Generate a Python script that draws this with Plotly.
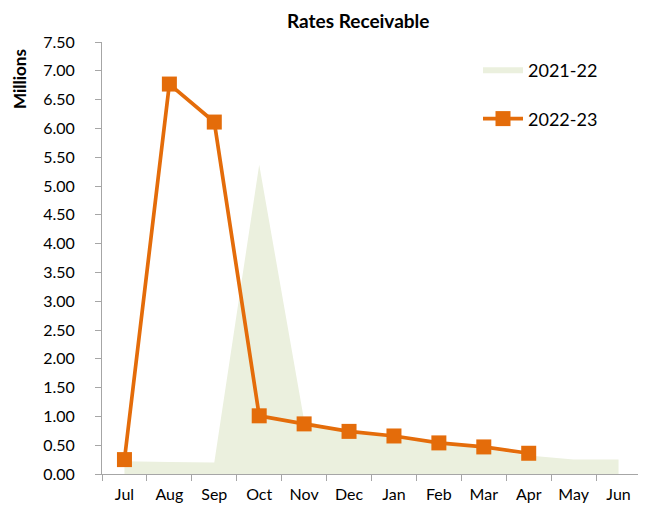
import plotly.graph_objects as go

months = ["Jul", "Aug", "Sep", "Oct", "Nov", "Dec", "Jan", "Feb", "Mar", "Apr", "May", "Jun"]
rates_2021_22 = [0.22, 0.21, 0.20, 5.37, 0.93, 0.72, 0.64, 0.53, 0.44, 0.32, 0.25, 0.25]
months_2022_23 = ["Jul", "Aug", "Sep", "Oct", "Nov", "Dec", "Jan", "Feb", "Mar", "Apr"]
rates_2022_23 = [0.25, 6.77, 6.11, 1.01, 0.87, 0.74, 0.66, 0.54, 0.47, 0.36]
y_ticks = [i * 0.5 for i in range(16)]
chart_title = "Rates Receivable"
y_title = "Millions"

font_family = "Lato, Carlito, Calibri, sans-serif"

OFF = 8  # default page body margin
W, H = 646 - OFF, 514 - OFF
L, T = 102 - OFF, 42 - OFF
R = W - (641 - OFF)
B = H - (474 - OFF)
pw, ph = W - L - R, H - T - B

fig = go.Figure()
fig.add_trace(go.Scatter(
    x=months, y=rates_2021_22, name="2021-22", mode="none",
    fill="tozeroy", fillcolor="#EBF0DE", legendgroup="a",
))
fig.add_trace(go.Scatter(
    x=months_2022_23, y=rates_2022_23, name="2022-23", mode="lines+markers",
    line=dict(color="#E46C0A", width=3.7),
    marker=dict(symbol="square", size=15, color="#E46C0A"),
    legendgroup="b",
))

fig.update_layout(
    width=W, height=H,
    margin=dict(l=L, r=R, t=T, b=B, autoexpand=False),
    paper_bgcolor="white", plot_bgcolor="white",
    font=dict(family=font_family, size=16, color="#000000"),
    showlegend=True,
    legend=dict(x=(478 - 102) / pw, y=(474 - 52) / ph, xanchor="left", yanchor="top",
                bgcolor="rgba(0,0,0,0)", tracegroupgap=22,
                traceorder="grouped", font=dict(size=18), itemwidth=40),
    xaxis=dict(
        type="category", categoryorder="array", categoryarray=months,
        range=[-0.5, 11.5], tickson="boundaries", ticks="outside",
        ticklen=6, tickcolor="#A6A6A6", showline=True, linecolor="#A6A6A6",
        linewidth=1, showgrid=False, zeroline=False, automargin=False,
        ticklabelstandoff=6,
    ),
    yaxis=dict(
        range=[0, 7.5], tickvals=y_ticks, tickformat=".2f", ticks="outside",
        ticklen=6, tickcolor="#A6A6A6", showline=True, linecolor="#A6A6A6",
        linewidth=1, showgrid=False, zeroline=False, automargin=False,
        ticklabelstandoff=17,
    ),
    annotations=[
        dict(
            text=f"<b>{chart_title}</b>", showarrow=False,
            xref="paper", yref="paper", x=(358 - 102) / pw, y=(474 - 21) / ph,
            xanchor="center", yanchor="middle", font=dict(size=19), borderpad=0,
        ),
        dict(
            text=f"<b>{y_title}</b>", textangle=-90, showarrow=False,
            xref="paper", yref="paper", x=(19 - 102) / pw, y=(474 - 79) / ph,
            xanchor="center", yanchor="middle", font=dict(size=17),
        ),
    ],
)

fig.write_html("out.html")
